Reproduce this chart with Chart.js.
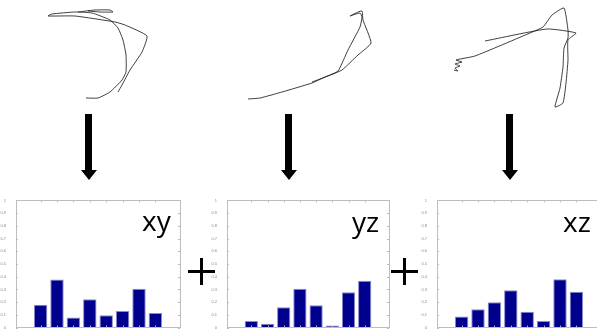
<!DOCTYPE html>
<html>
<head>
<meta charset="utf-8">
<script src="https://cdn.jsdelivr.net/npm/chart.js@4/dist/chart.umd.min.js"></script>
<style>
  html, body { margin: 0; padding: 0; background: #fff; }
  body { width: 597px; height: 332px; position: relative; overflow: hidden; }
  .box { position: absolute; }
  .shaft { position: absolute; width: 7px; height: 57px; background: #000; }
  .head { position: absolute; width: 0; height: 0;
          border-left: 8px solid transparent; border-right: 8px solid transparent;
          border-top: 10px solid #000; }
  .plusH { position: absolute; width: 27px; height: 3px; background: #000; }
  .plusV { position: absolute; width: 3px; height: 27px; background: #000; }
  .lbl { position: absolute; font-family: "Open Sans", "Liberation Sans", sans-serif;
         font-size: 28px; line-height: 28px; color: #000; }
</style>
</head>
<body>
<div class="box" style="left:0;top:0;width:597px;height:112px"><canvas id="traj"></canvas></div>

<div class="shaft" style="left:85px;top:114px"></div><div class="head" style="left:81px;top:170px"></div>
<div class="shaft" style="left:285px;top:114px"></div><div class="head" style="left:281px;top:170px"></div>
<div class="shaft" style="left:506px;top:114px"></div><div class="head" style="left:502px;top:170px"></div>

<div class="box" style="left:0;top:196px;width:184px;height:136px"><canvas id="barXY"></canvas></div>
<div class="box" style="left:211px;top:196px;width:182px;height:136px"><canvas id="barYZ"></canvas></div>
<div class="box" style="left:421px;top:196px;width:184px;height:136px"><canvas id="barXZ"></canvas></div>

<div class="plusH" style="left:188px;top:270px"></div><div class="plusV" style="left:200px;top:258px"></div>
<div class="plusH" style="left:391px;top:270px"></div><div class="plusV" style="left:403px;top:258px"></div>

<div class="lbl" style="left:142px;top:206px">xy</div>
<div class="lbl" style="left:352px;top:207px">yz</div>
<div class="lbl" style="left:563px;top:207px">xz</div>

<script>
// trajectory sketches (page units, y grows downward)
const trajXY = [[86,98],[98,98],[110,92],[122,80],[126,72],[126,55],[123,40],[118,28],[110,20],[92,13],
  [75,12],[52,14],[48,16],[75,16],[115,22],[125,25],[147,36],[142,52],[130,70],[122,85],[118,92]];
const trajXYtop = [[78,12],[95,10],[110,10],[113,12],[100,12],[88,11]];
const trajYZ = [[248,99],[260,98],[282,92],[312,83],[325,77],[338,71],[348,50],[360,27],[362,17],[360,13],
  [353,15],[350,16],[358,12],[362,11],[363,20],[371,43],[358,55],[342,70],[328,76],[312,82]];
const trajXZ = [[454,70],[458,71],[455,68],[460,66],[455,64],[462,62],[456,60],[475,56],[530,33],[543,27],
  [552,15],[564,8],[568,30],[568,38],[564,48],[563,67],[560,88],[555,107],[563,103],[566,83],[568,60],
  [568,40],[576,33],[547,29],[485,41]];
const trajXZdash = [[507,114],[513,114]];

// histograms
const bins = [1, 2, 3, 4, 5, 6, 7, 8];
const xyValues = [0.18, 0.378, 0.08, 0.223, 0.098, 0.13, 0.306, 0.114];
const yzValues = [0.052, 0.031, 0.16, 0.306, 0.176, 0.016, 0.277, 0.368];
const xzValues = [0.088, 0.145, 0.2, 0.293, 0.124, 0.052, 0.38, 0.282];
const yTickLabels = ["0", "0.1", "0.2", "0.3", "0.4", "0.5", "0.6", "0.7", "0.8", "0.9", "1"];

function pts(arr) {
  return arr.map(function (p) { return { x: p[0], y: p[1] }; });
}

function lineSet(arr) {
  return {
    data: pts(arr),
    showLine: true,
    borderColor: "rgba(30,30,30,0.85)",
    borderWidth: 1,
    pointRadius: 0,
    tension: 0.15,
  };
}

new Chart(document.getElementById("traj"), {
  type: "scatter",
  data: {
    datasets: [lineSet(trajXY), lineSet(trajXYtop), lineSet(trajYZ), lineSet(trajXZ), lineSet(trajXZdash)],
  },
  options: {
    animation: false,
    responsive: true,
    maintainAspectRatio: false,
    layout: { padding: 0 },
    scales: {
      x: { type: "linear", min: 0, max: 597, display: false },
      y: { type: "linear", min: 0, max: 112, reverse: true, display: false },
    },
    plugins: { legend: { display: false }, tooltip: { enabled: false } },
  },
});

// box with inward ticks, like the original plots
const frame = {
  id: "frame",
  afterDraw: function (chart) {
    const a = chart.chartArea;
    const c = chart.ctx;
    c.save();
    c.strokeStyle = "#bdbdbd";
    c.lineWidth = 1;
    c.strokeRect(Math.round(a.left) + 0.5, Math.round(a.top) + 0.5,
      Math.round(a.right - a.left), Math.round(a.bottom - a.top));
    c.beginPath();
    yTickLabels.forEach(function (t, i) {
      const py = Math.round(chart.scales.y.getPixelForValue(i / 10)) + 0.5;
      c.moveTo(a.left, py); c.lineTo(a.left + 2, py);
      c.moveTo(a.right, py); c.lineTo(a.right - 2, py);
    });
    bins.forEach(function (b) {
      const px = Math.round(chart.scales.x.getPixelForValue(b)) + 0.5;
      c.moveTo(px, a.top); c.lineTo(px, a.top + 2);
      c.moveTo(px, a.bottom); c.lineTo(px, a.bottom - 2);
    });
    c.stroke();
    c.restore();
  },
};

function histogram(id, values) {
  new Chart(document.getElementById(id), {
    type: "bar",
    data: {
      datasets: [{
        data: bins.map(function (b, i) { return { x: b, y: values[i] }; }),
        backgroundColor: "#00008f",
        borderColor: "#8c8cc8",
        borderWidth: 1,
        categoryPercentage: 1,
        barPercentage: 0.82,
      }],
    },
    options: {
      animation: false,
      responsive: true,
      maintainAspectRatio: false,
      layout: { padding: { top: 4, right: 4, left: 0, bottom: 0 } },
      scales: {
        x: {
          type: "linear", min: 0, max: 9,
          grid: { display: false }, border: { display: false },
          afterFit: function (s) { s.height = 3; },
          ticks: {
            stepSize: 1, padding: 0, color: "#999", font: { size: 4 },
            callback: function (v) { return bins.indexOf(v) >= 0 ? String(v) : ""; },
          },
        },
        y: {
          min: 0, max: 1,
          grid: { display: false }, border: { display: false },
          afterFit: function (s) { s.width = 16; },
          ticks: {
            stepSize: 0.1, padding: 2, color: "#888", font: { size: 4 },
            callback: function (v, i) { return yTickLabels[i]; },
          },
        },
      },
      plugins: { legend: { display: false }, tooltip: { enabled: false } },
    },
    plugins: [frame],
  });
}

histogram("barXY", xyValues);
histogram("barYZ", yzValues);
histogram("barXZ", xzValues);
</script>
</body>
</html>
